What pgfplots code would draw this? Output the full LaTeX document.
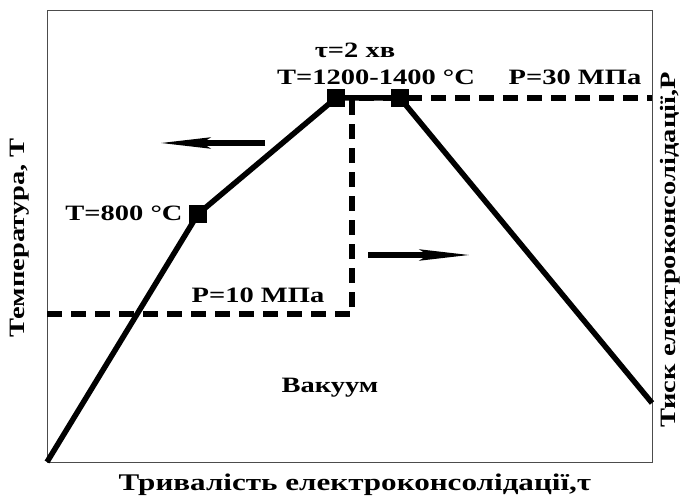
\documentclass[border=0pt]{standalone}
\usepackage{pgfplots}
\pgfplotsset{compat=1.18}
\usepackage{fontspec}
\setmainfont{Liberation Serif}[FakeStretch=1.3]
\usetikzlibrary{arrows.meta}

\begin{document}
\begin{tikzpicture}[
  lbl/.style={font=\bfseries\fontsize{22}{24}\selectfont, inner sep=0pt},
  albl/.style={font=\bfseries\fontsize{24}{26}\selectfont, inner sep=0pt},
  ylbl/.style={font=\bfseries\fontsize{22}{24}\selectfont, inner sep=0pt, rotate=90}]
\useasboundingbox (-47bp,-39bp) rectangle (637bp,462bp);
\begin{axis}[
  at={(0,0)}, anchor=south west,
  scale only axis, width=605bp, height=452bp,
  xmin=47, xmax=652, ymin=0, ymax=452,
  axis line style={line width=0.8pt, black!70},
  ticks=none, clip=false,
]
% pressure (dashed)
\addplot[line width=5.5bp, black, dash pattern=on 15bp off 9bp, line join=miter]
  coordinates {(47,148) (352,148) (352,364) (652,364)};
% temperature (solid)
\addplot[line width=5.5bp, black, mark=square*, mark size=6bp, mark indices={2,3,4},
  mark options={solid}]
  coordinates {(47,0) (198,248) (336,364) (400,364) (652,59)};
% direction arrows
\addplot[line width=5.5bp, black, -{Stealth[length=50bp,width=11bp,inset=8bp]}]
  coordinates {(265,319) (160,319)};
\addplot[line width=5.5bp, black, -{Stealth[length=50bp,width=11bp,inset=8bp]}]
  coordinates {(368,207) (470,207)};

\node[lbl] at (axis cs:355,412) {τ=2 хв};
\node[lbl] at (axis cs:376,385) {T=1200-1400 °C};
\node[lbl] at (axis cs:575,385) {P=30 МПа};
\node[lbl] at (axis cs:124,249) {T=800 °C};
\node[lbl] at (axis cs:258,167) {P=10 МПа};
\node[lbl] at (axis cs:330,74) {Вакуум};
\node[albl] at (axis cs:355,-23) {Тривалість електроконсолідації,τ};
\node[ylbl] at (axis cs:20,224) {Температура, Т};
\node[ylbl] at (axis cs:670,212) {Тиск електроконсолідації,Р};
\end{axis}
\end{tikzpicture}
\end{document}
